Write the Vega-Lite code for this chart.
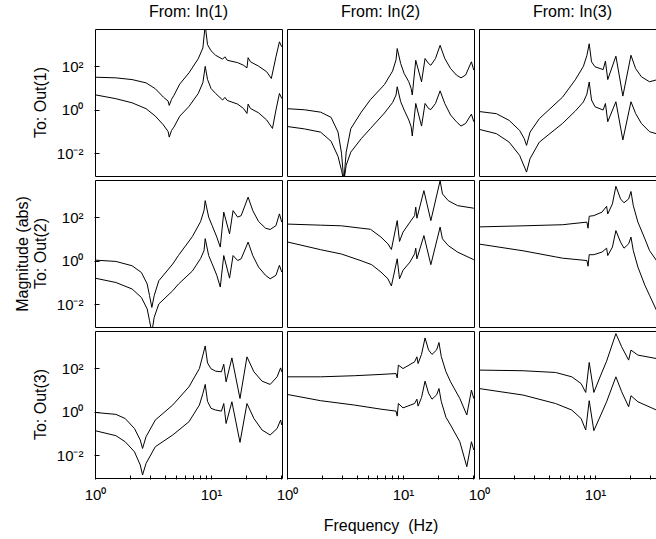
{
"$schema": "https://vega.github.io/schema/vega-lite/v6.json",
"padding": {"left": 14, "top": 4, "right": 0, "bottom": 0},
"background": "white",
"data": {"values": [
{"out":"To: Out(1)","in":"From: In(1)","curve":"a","f":1,"mag":31.62},{"out":"To: Out(1)","in":"From: In(1)","curve":"a","f":1.514,"mag":29.51},{"out":"To: Out(1)","in":"From: In(1)","curve":"a","f":2.089,"mag":24.55},{"out":"To: Out(1)","in":"From: In(1)","curve":"a","f":2.754,"mag":17.38},{"out":"To: Out(1)","in":"From: In(1)","curve":"a","f":3.311,"mag":9.333},{"out":"To: Out(1)","in":"From: In(1)","curve":"a","f":3.89,"mag":3.802},{"out":"To: Out(1)","in":"From: In(1)","curve":"a","f":4.266,"mag":2.512},{"out":"To: Out(1)","in":"From: In(1)","curve":"a","f":4.365,"mag":1.585},{"out":"To: Out(1)","in":"From: In(1)","curve":"a","f":4.571,"mag":3.02},{"out":"To: Out(1)","in":"From: In(1)","curve":"a","f":4.786,"mag":4.571},{"out":"To: Out(1)","in":"From: In(1)","curve":"a","f":5.37,"mag":15.14},{"out":"To: Out(1)","in":"From: In(1)","curve":"a","f":6.457,"mag":50.12},{"out":"To: Out(1)","in":"From: In(1)","curve":"a","f":7.762,"mag":223.9},{"out":"To: Out(1)","in":"From: In(1)","curve":"a","f":8.511,"mag":707.9},{"out":"To: Out(1)","in":"From: In(1)","curve":"a","f":8.913,"mag":7943},{"out":"To: Out(1)","in":"From: In(1)","curve":"a","f":9.333,"mag":1000},{"out":"To: Out(1)","in":"From: In(1)","curve":"a","f":10,"mag":524.8},{"out":"To: Out(1)","in":"From: In(1)","curve":"a","f":10.96,"mag":323.6},{"out":"To: Out(1)","in":"From: In(1)","curve":"a","f":12.59,"mag":213.8},{"out":"To: Out(1)","in":"From: In(1)","curve":"a","f":13.18,"mag":275.4},{"out":"To: Out(1)","in":"From: In(1)","curve":"a","f":13.8,"mag":190.5},{"out":"To: Out(1)","in":"From: In(1)","curve":"a","f":16.98,"mag":147.9},{"out":"To: Out(1)","in":"From: In(1)","curve":"a","f":19.05,"mag":112.2},{"out":"To: Out(1)","in":"From: In(1)","curve":"a","f":20.42,"mag":85.11},{"out":"To: Out(1)","in":"From: In(1)","curve":"a","f":20.89,"mag":251.2},{"out":"To: Out(1)","in":"From: In(1)","curve":"a","f":21.88,"mag":162.2},{"out":"To: Out(1)","in":"From: In(1)","curve":"a","f":25.7,"mag":102.3},{"out":"To: Out(1)","in":"From: In(1)","curve":"a","f":30.2,"mag":56.23},{"out":"To: Out(1)","in":"From: In(1)","curve":"a","f":33.11,"mag":27.54},{"out":"To: Out(1)","in":"From: In(1)","curve":"a","f":36.31,"mag":275.4},{"out":"To: Out(1)","in":"From: In(1)","curve":"a","f":38.9,"mag":1349},{"out":"To: Out(1)","in":"From: In(1)","curve":"a","f":40.74,"mag":794.3},
{"out":"To: Out(1)","in":"From: In(1)","curve":"b","f":1,"mag":4.898},{"out":"To: Out(1)","in":"From: In(1)","curve":"b","f":1.514,"mag":3.236},{"out":"To: Out(1)","in":"From: In(1)","curve":"b","f":2.089,"mag":2.089},{"out":"To: Out(1)","in":"From: In(1)","curve":"b","f":2.754,"mag":1.122},{"out":"To: Out(1)","in":"From: In(1)","curve":"b","f":3.311,"mag":0.5129},{"out":"To: Out(1)","in":"From: In(1)","curve":"b","f":3.89,"mag":0.1995},{"out":"To: Out(1)","in":"From: In(1)","curve":"b","f":4.266,"mag":0.1},{"out":"To: Out(1)","in":"From: In(1)","curve":"b","f":4.365,"mag":0.05495},{"out":"To: Out(1)","in":"From: In(1)","curve":"b","f":4.571,"mag":0.1122},{"out":"To: Out(1)","in":"From: In(1)","curve":"b","f":4.786,"mag":0.1585},{"out":"To: Out(1)","in":"From: In(1)","curve":"b","f":5.37,"mag":0.5012},{"out":"To: Out(1)","in":"From: In(1)","curve":"b","f":6.457,"mag":1.413},{"out":"To: Out(1)","in":"From: In(1)","curve":"b","f":7.762,"mag":5.623},{"out":"To: Out(1)","in":"From: In(1)","curve":"b","f":8.511,"mag":17.78},{"out":"To: Out(1)","in":"From: In(1)","curve":"b","f":8.913,"mag":100},{"out":"To: Out(1)","in":"From: In(1)","curve":"b","f":9.333,"mag":25.12},{"out":"To: Out(1)","in":"From: In(1)","curve":"b","f":10,"mag":9.55},{"out":"To: Out(1)","in":"From: In(1)","curve":"b","f":10.96,"mag":5.623},{"out":"To: Out(1)","in":"From: In(1)","curve":"b","f":12.59,"mag":2.818},{"out":"To: Out(1)","in":"From: In(1)","curve":"b","f":13.18,"mag":3.715},{"out":"To: Out(1)","in":"From: In(1)","curve":"b","f":13.8,"mag":2.692},{"out":"To: Out(1)","in":"From: In(1)","curve":"b","f":16.98,"mag":1.82},{"out":"To: Out(1)","in":"From: In(1)","curve":"b","f":19.05,"mag":1.148},{"out":"To: Out(1)","in":"From: In(1)","curve":"b","f":20.42,"mag":0.6761},{"out":"To: Out(1)","in":"From: In(1)","curve":"b","f":20.89,"mag":1.82},{"out":"To: Out(1)","in":"From: In(1)","curve":"b","f":21.88,"mag":1.148},{"out":"To: Out(1)","in":"From: In(1)","curve":"b","f":25.7,"mag":0.7244},{"out":"To: Out(1)","in":"From: In(1)","curve":"b","f":30.2,"mag":0.3388},{"out":"To: Out(1)","in":"From: In(1)","curve":"b","f":33.88,"mag":0.138},{"out":"To: Out(1)","in":"From: In(1)","curve":"b","f":36.31,"mag":0.9772},{"out":"To: Out(1)","in":"From: In(1)","curve":"b","f":38.9,"mag":5.623},{"out":"To: Out(1)","in":"From: In(1)","curve":"b","f":40.74,"mag":3.311},
{"out":"To: Out(1)","in":"From: In(2)","curve":"a","f":1,"mag":1.122},{"out":"To: Out(1)","in":"From: In(2)","curve":"a","f":1.413,"mag":1.0},{"out":"To: Out(1)","in":"From: In(2)","curve":"a","f":1.95,"mag":0.7762},{"out":"To: Out(1)","in":"From: In(2)","curve":"a","f":2.399,"mag":0.4467},{"out":"To: Out(1)","in":"From: In(2)","curve":"a","f":2.754,"mag":0.09333},{"out":"To: Out(1)","in":"From: In(2)","curve":"a","f":2.951,"mag":0.01},{"out":"To: Out(1)","in":"From: In(2)","curve":"a","f":3.09,"mag":0.000501},{"out":"To: Out(1)","in":"From: In(2)","curve":"a","f":3.236,"mag":0.01122},{"out":"To: Out(1)","in":"From: In(2)","curve":"a","f":3.548,"mag":0.1349},{"out":"To: Out(1)","in":"From: In(2)","curve":"a","f":4.365,"mag":0.7762},{"out":"To: Out(1)","in":"From: In(2)","curve":"a","f":5.248,"mag":2.951},{"out":"To: Out(1)","in":"From: In(2)","curve":"a","f":6.918,"mag":14.45},{"out":"To: Out(1)","in":"From: In(2)","curve":"a","f":8.128,"mag":60.26},{"out":"To: Out(1)","in":"From: In(2)","curve":"a","f":8.71,"mag":199.5},{"out":"To: Out(1)","in":"From: In(2)","curve":"a","f":8.913,"mag":660.7},{"out":"To: Out(1)","in":"From: In(2)","curve":"a","f":9.55,"mag":134.9},{"out":"To: Out(1)","in":"From: In(2)","curve":"a","f":10.23,"mag":46.77},{"out":"To: Out(1)","in":"From: In(2)","curve":"a","f":11.22,"mag":19.5},{"out":"To: Out(1)","in":"From: In(2)","curve":"a","f":11.75,"mag":9.55},{"out":"To: Out(1)","in":"From: In(2)","curve":"a","f":12.02,"mag":4.786},{"out":"To: Out(1)","in":"From: In(2)","curve":"a","f":12.88,"mag":190.5},{"out":"To: Out(1)","in":"From: In(2)","curve":"a","f":14.45,"mag":19.5},{"out":"To: Out(1)","in":"From: In(2)","curve":"a","f":15.49,"mag":229.1},{"out":"To: Out(1)","in":"From: In(2)","curve":"a","f":16.6,"mag":134.9},{"out":"To: Out(1)","in":"From: In(2)","curve":"a","f":17.38,"mag":112.2},{"out":"To: Out(1)","in":"From: In(2)","curve":"a","f":19.05,"mag":229.1},{"out":"To: Out(1)","in":"From: In(2)","curve":"a","f":20.89,"mag":933.3},{"out":"To: Out(1)","in":"From: In(2)","curve":"a","f":22.91,"mag":229.1},{"out":"To: Out(1)","in":"From: In(2)","curve":"a","f":25.7,"mag":79.43},{"out":"To: Out(1)","in":"From: In(2)","curve":"a","f":28.84,"mag":39.81},{"out":"To: Out(1)","in":"From: In(2)","curve":"a","f":31.62,"mag":29.51},{"out":"To: Out(1)","in":"From: In(2)","curve":"a","f":34.67,"mag":39.81},{"out":"To: Out(1)","in":"From: In(2)","curve":"a","f":38.9,"mag":162.2},{"out":"To: Out(1)","in":"From: In(2)","curve":"a","f":40.74,"mag":67.61},
{"out":"To: Out(1)","in":"From: In(2)","curve":"b","f":1,"mag":0.1698},{"out":"To: Out(1)","in":"From: In(2)","curve":"b","f":1.413,"mag":0.1318},{"out":"To: Out(1)","in":"From: In(2)","curve":"b","f":1.95,"mag":0.09333},{"out":"To: Out(1)","in":"From: In(2)","curve":"b","f":2.399,"mag":0.03548},{"out":"To: Out(1)","in":"From: In(2)","curve":"b","f":2.754,"mag":0.007079},{"out":"To: Out(1)","in":"From: In(2)","curve":"b","f":2.951,"mag":0.001622},{"out":"To: Out(1)","in":"From: In(2)","curve":"b","f":3.09,"mag":0.000501},{"out":"To: Out(1)","in":"From: In(2)","curve":"b","f":3.236,"mag":0.002754},{"out":"To: Out(1)","in":"From: In(2)","curve":"b","f":3.548,"mag":0.01122},{"out":"To: Out(1)","in":"From: In(2)","curve":"b","f":4.365,"mag":0.04677},{"out":"To: Out(1)","in":"From: In(2)","curve":"b","f":5.248,"mag":0.138},{"out":"To: Out(1)","in":"From: In(2)","curve":"b","f":6.918,"mag":0.7079},{"out":"To: Out(1)","in":"From: In(2)","curve":"b","f":8.128,"mag":2.138},{"out":"To: Out(1)","in":"From: In(2)","curve":"b","f":8.71,"mag":4.786},{"out":"To: Out(1)","in":"From: In(2)","curve":"b","f":8.913,"mag":11.48},{"out":"To: Out(1)","in":"From: In(2)","curve":"b","f":9.55,"mag":2.344},{"out":"To: Out(1)","in":"From: In(2)","curve":"b","f":10.23,"mag":0.9772},{"out":"To: Out(1)","in":"From: In(2)","curve":"b","f":11.22,"mag":0.3388},{"out":"To: Out(1)","in":"From: In(2)","curve":"b","f":11.75,"mag":0.166},{"out":"To: Out(1)","in":"From: In(2)","curve":"b","f":12.02,"mag":0.06166},{"out":"To: Out(1)","in":"From: In(2)","curve":"b","f":12.88,"mag":1.95},{"out":"To: Out(1)","in":"From: In(2)","curve":"b","f":14.45,"mag":0.1778},{"out":"To: Out(1)","in":"From: In(2)","curve":"b","f":15.49,"mag":1.95},{"out":"To: Out(1)","in":"From: In(2)","curve":"b","f":16.6,"mag":1.148},{"out":"To: Out(1)","in":"From: In(2)","curve":"b","f":17.38,"mag":1.023},{"out":"To: Out(1)","in":"From: In(2)","curve":"b","f":19.05,"mag":1.95},{"out":"To: Out(1)","in":"From: In(2)","curve":"b","f":20.89,"mag":7.413},{"out":"To: Out(1)","in":"From: In(2)","curve":"b","f":22.91,"mag":1.95},{"out":"To: Out(1)","in":"From: In(2)","curve":"b","f":25.7,"mag":0.5754},{"out":"To: Out(1)","in":"From: In(2)","curve":"b","f":28.84,"mag":0.2818},{"out":"To: Out(1)","in":"From: In(2)","curve":"b","f":31.62,"mag":0.1778},{"out":"To: Out(1)","in":"From: In(2)","curve":"b","f":34.67,"mag":0.2344},{"out":"To: Out(1)","in":"From: In(2)","curve":"b","f":38.9,"mag":0.631},{"out":"To: Out(1)","in":"From: In(2)","curve":"b","f":40.74,"mag":0.2818},
{"out":"To: Out(1)","in":"From: In(3)","curve":"a","f":1,"mag":0.8318},{"out":"To: Out(1)","in":"From: In(3)","curve":"a","f":1.413,"mag":0.6607},{"out":"To: Out(1)","in":"From: In(3)","curve":"a","f":1.82,"mag":0.3236},{"out":"To: Out(1)","in":"From: In(3)","curve":"a","f":2.239,"mag":0.1122},{"out":"To: Out(1)","in":"From: In(3)","curve":"a","f":2.455,"mag":0.04677},{"out":"To: Out(1)","in":"From: In(3)","curve":"a","f":2.57,"mag":0.02291},{"out":"To: Out(1)","in":"From: In(3)","curve":"a","f":2.754,"mag":0.09333},{"out":"To: Out(1)","in":"From: In(3)","curve":"a","f":3.311,"mag":0.389},{"out":"To: Out(1)","in":"From: In(3)","curve":"a","f":5.248,"mag":3.802},{"out":"To: Out(1)","in":"From: In(3)","curve":"a","f":6.761,"mag":23.99},{"out":"To: Out(1)","in":"From: In(3)","curve":"a","f":7.943,"mag":100},{"out":"To: Out(1)","in":"From: In(3)","curve":"a","f":8.511,"mag":316.2},{"out":"To: Out(1)","in":"From: In(3)","curve":"a","f":8.913,"mag":1096},{"out":"To: Out(1)","in":"From: In(3)","curve":"a","f":9.333,"mag":162.2},{"out":"To: Out(1)","in":"From: In(3)","curve":"a","f":10,"mag":95.5},{"out":"To: Out(1)","in":"From: In(3)","curve":"a","f":11.75,"mag":70.79},{"out":"To: Out(1)","in":"From: In(3)","curve":"a","f":12.3,"mag":173.8},{"out":"To: Out(1)","in":"From: In(3)","curve":"a","f":12.88,"mag":24.55},{"out":"To: Out(1)","in":"From: In(3)","curve":"a","f":15.14,"mag":295.1},{"out":"To: Out(1)","in":"From: In(3)","curve":"a","f":17.38,"mag":4.266},{"out":"To: Out(1)","in":"From: In(3)","curve":"a","f":20.42,"mag":323.6},{"out":"To: Out(1)","in":"From: In(3)","curve":"a","f":22.39,"mag":79.43},{"out":"To: Out(1)","in":"From: In(3)","curve":"a","f":25.12,"mag":33.11},{"out":"To: Out(1)","in":"From: In(3)","curve":"a","f":29.51,"mag":19.5},{"out":"To: Out(1)","in":"From: In(3)","curve":"a","f":34.67,"mag":24.55},
{"out":"To: Out(1)","in":"From: In(3)","curve":"b","f":1,"mag":0.1259},{"out":"To: Out(1)","in":"From: In(3)","curve":"b","f":1.413,"mag":0.07943},{"out":"To: Out(1)","in":"From: In(3)","curve":"b","f":1.82,"mag":0.03236},{"out":"To: Out(1)","in":"From: In(3)","curve":"b","f":2.239,"mag":0.007943},{"out":"To: Out(1)","in":"From: In(3)","curve":"b","f":2.57,"mag":0.001349},{"out":"To: Out(1)","in":"From: In(3)","curve":"b","f":2.754,"mag":0.005623},{"out":"To: Out(1)","in":"From: In(3)","curve":"b","f":3.311,"mag":0.03236},{"out":"To: Out(1)","in":"From: In(3)","curve":"b","f":5.248,"mag":0.2344},{"out":"To: Out(1)","in":"From: In(3)","curve":"b","f":6.761,"mag":0.871},{"out":"To: Out(1)","in":"From: In(3)","curve":"b","f":7.943,"mag":2.291},{"out":"To: Out(1)","in":"From: In(3)","curve":"b","f":8.511,"mag":5.248},{"out":"To: Out(1)","in":"From: In(3)","curve":"b","f":8.913,"mag":19.05},{"out":"To: Out(1)","in":"From: In(3)","curve":"b","f":9.333,"mag":2.818},{"out":"To: Out(1)","in":"From: In(3)","curve":"b","f":10,"mag":1.38},{"out":"To: Out(1)","in":"From: In(3)","curve":"b","f":11.75,"mag":0.9772},{"out":"To: Out(1)","in":"From: In(3)","curve":"b","f":12.3,"mag":1.95},{"out":"To: Out(1)","in":"From: In(3)","curve":"b","f":12.88,"mag":0.2818},{"out":"To: Out(1)","in":"From: In(3)","curve":"b","f":15.14,"mag":2.344},{"out":"To: Out(1)","in":"From: In(3)","curve":"b","f":17.38,"mag":0.04074},{"out":"To: Out(1)","in":"From: In(3)","curve":"b","f":20.42,"mag":2.344},{"out":"To: Out(1)","in":"From: In(3)","curve":"b","f":22.39,"mag":0.6761},{"out":"To: Out(1)","in":"From: In(3)","curve":"b","f":25.12,"mag":0.2344},{"out":"To: Out(1)","in":"From: In(3)","curve":"b","f":29.51,"mag":0.09772},{"out":"To: Out(1)","in":"From: In(3)","curve":"b","f":34.67,"mag":0.07586},
{"out":"To: Out(2)","in":"From: In(1)","curve":"a","f":1,"mag":1.072},{"out":"To: Out(2)","in":"From: In(1)","curve":"a","f":1.514,"mag":0.9333},{"out":"To: Out(2)","in":"From: In(1)","curve":"a","f":2.089,"mag":0.5888},{"out":"To: Out(2)","in":"From: In(1)","curve":"a","f":2.512,"mag":0.2884},{"out":"To: Out(2)","in":"From: In(1)","curve":"a","f":2.818,"mag":0.08511},{"out":"To: Out(2)","in":"From: In(1)","curve":"a","f":2.951,"mag":0.02512},{"out":"To: Out(2)","in":"From: In(1)","curve":"a","f":3.09,"mag":0.007079},{"out":"To: Out(2)","in":"From: In(1)","curve":"a","f":3.236,"mag":0.02455},{"out":"To: Out(2)","in":"From: In(1)","curve":"a","f":3.548,"mag":0.1202},{"out":"To: Out(2)","in":"From: In(1)","curve":"a","f":4.677,"mag":0.7079},{"out":"To: Out(2)","in":"From: In(1)","curve":"a","f":5.248,"mag":1.778},{"out":"To: Out(2)","in":"From: In(1)","curve":"a","f":6.918,"mag":13.18},{"out":"To: Out(2)","in":"From: In(1)","curve":"a","f":8.128,"mag":63.1},{"out":"To: Out(2)","in":"From: In(1)","curve":"a","f":8.71,"mag":208.9},{"out":"To: Out(2)","in":"From: In(1)","curve":"a","f":8.913,"mag":588.8},{"out":"To: Out(2)","in":"From: In(1)","curve":"a","f":9.55,"mag":102.3},{"out":"To: Out(2)","in":"From: In(1)","curve":"a","f":10.23,"mag":41.69},{"out":"To: Out(2)","in":"From: In(1)","curve":"a","f":11.22,"mag":12.3},{"out":"To: Out(2)","in":"From: In(1)","curve":"a","f":12.02,"mag":4.266},{"out":"To: Out(2)","in":"From: In(1)","curve":"a","f":12.88,"mag":173.8},{"out":"To: Out(2)","in":"From: In(1)","curve":"a","f":14.45,"mag":17.38},{"out":"To: Out(2)","in":"From: In(1)","curve":"a","f":15.49,"mag":204.2},{"out":"To: Out(2)","in":"From: In(1)","curve":"a","f":16.98,"mag":102.3},{"out":"To: Out(2)","in":"From: In(1)","curve":"a","f":18.2,"mag":120.2},{"out":"To: Out(2)","in":"From: In(1)","curve":"a","f":20.89,"mag":851.1},{"out":"To: Out(2)","in":"From: In(1)","curve":"a","f":22.91,"mag":204.2},{"out":"To: Out(2)","in":"From: In(1)","curve":"a","f":25.7,"mag":64.57},{"out":"To: Out(2)","in":"From: In(1)","curve":"a","f":29.51,"mag":31.62},{"out":"To: Out(2)","in":"From: In(1)","curve":"a","f":32.36,"mag":27.54},{"out":"To: Out(2)","in":"From: In(1)","curve":"a","f":36.31,"mag":41.69},{"out":"To: Out(2)","in":"From: In(1)","curve":"a","f":38.9,"mag":144.5},{"out":"To: Out(2)","in":"From: In(1)","curve":"a","f":40.74,"mag":60.26},
{"out":"To: Out(2)","in":"From: In(1)","curve":"b","f":1,"mag":0.1585},{"out":"To: Out(2)","in":"From: In(1)","curve":"b","f":1.514,"mag":0.1},{"out":"To: Out(2)","in":"From: In(1)","curve":"b","f":2.089,"mag":0.05012},{"out":"To: Out(2)","in":"From: In(1)","curve":"b","f":2.512,"mag":0.02042},{"out":"To: Out(2)","in":"From: In(1)","curve":"b","f":2.818,"mag":0.006026},{"out":"To: Out(2)","in":"From: In(1)","curve":"b","f":2.951,"mag":0.001738},{"out":"To: Out(2)","in":"From: In(1)","curve":"b","f":3.09,"mag":0.000501},{"out":"To: Out(2)","in":"From: In(1)","curve":"b","f":3.236,"mag":0.002455},{"out":"To: Out(2)","in":"From: In(1)","curve":"b","f":3.548,"mag":0.01023},{"out":"To: Out(2)","in":"From: In(1)","curve":"b","f":4.677,"mag":0.04169},{"out":"To: Out(2)","in":"From: In(1)","curve":"b","f":5.248,"mag":0.08511},{"out":"To: Out(2)","in":"From: In(1)","curve":"b","f":6.918,"mag":0.3388},{"out":"To: Out(2)","in":"From: In(1)","curve":"b","f":8.128,"mag":1.259},{"out":"To: Out(2)","in":"From: In(1)","curve":"b","f":8.71,"mag":2.951},{"out":"To: Out(2)","in":"From: In(1)","curve":"b","f":8.913,"mag":10.47},{"out":"To: Out(2)","in":"From: In(1)","curve":"b","f":9.55,"mag":1.738},{"out":"To: Out(2)","in":"From: In(1)","curve":"b","f":10.23,"mag":0.7244},{"out":"To: Out(2)","in":"From: In(1)","curve":"b","f":11.22,"mag":0.2138},{"out":"To: Out(2)","in":"From: In(1)","curve":"b","f":12.02,"mag":0.06166},{"out":"To: Out(2)","in":"From: In(1)","curve":"b","f":12.88,"mag":1.738},{"out":"To: Out(2)","in":"From: In(1)","curve":"b","f":14.45,"mag":0.1585},{"out":"To: Out(2)","in":"From: In(1)","curve":"b","f":15.49,"mag":1.738},{"out":"To: Out(2)","in":"From: In(1)","curve":"b","f":16.98,"mag":1.023},{"out":"To: Out(2)","in":"From: In(1)","curve":"b","f":18.2,"mag":1.23},{"out":"To: Out(2)","in":"From: In(1)","curve":"b","f":20.89,"mag":7.244},{"out":"To: Out(2)","in":"From: In(1)","curve":"b","f":22.91,"mag":1.738},{"out":"To: Out(2)","in":"From: In(1)","curve":"b","f":25.7,"mag":0.5129},{"out":"To: Out(2)","in":"From: In(1)","curve":"b","f":29.51,"mag":0.2138},{"out":"To: Out(2)","in":"From: In(1)","curve":"b","f":32.36,"mag":0.1479},{"out":"To: Out(2)","in":"From: In(1)","curve":"b","f":36.31,"mag":0.2138},{"out":"To: Out(2)","in":"From: In(1)","curve":"b","f":38.9,"mag":0.6166},{"out":"To: Out(2)","in":"From: In(1)","curve":"b","f":40.74,"mag":0.302},
{"out":"To: Out(2)","in":"From: In(2)","curve":"a","f":1,"mag":48.98},{"out":"To: Out(2)","in":"From: In(2)","curve":"a","f":1.95,"mag":43.65},{"out":"To: Out(2)","in":"From: In(2)","curve":"a","f":2.951,"mag":40.74},{"out":"To: Out(2)","in":"From: In(2)","curve":"a","f":4.365,"mag":31.62},{"out":"To: Out(2)","in":"From: In(2)","curve":"a","f":5.248,"mag":28.18},{"out":"To: Out(2)","in":"From: In(2)","curve":"a","f":6.457,"mag":12.3},{"out":"To: Out(2)","in":"From: In(2)","curve":"a","f":7.413,"mag":6.026},{"out":"To: Out(2)","in":"From: In(2)","curve":"a","f":7.943,"mag":3.311},{"out":"To: Out(2)","in":"From: In(2)","curve":"a","f":8.913,"mag":70.79},{"out":"To: Out(2)","in":"From: In(2)","curve":"a","f":9.333,"mag":7.762},{"out":"To: Out(2)","in":"From: In(2)","curve":"a","f":10,"mag":20.89},{"out":"To: Out(2)","in":"From: In(2)","curve":"a","f":11.48,"mag":60.26},{"out":"To: Out(2)","in":"From: In(2)","curve":"a","f":12.59,"mag":120.2},{"out":"To: Out(2)","in":"From: In(2)","curve":"a","f":12.88,"mag":295.1},{"out":"To: Out(2)","in":"From: In(2)","curve":"a","f":13.18,"mag":91.2},{"out":"To: Out(2)","in":"From: In(2)","curve":"a","f":15.14,"mag":1698},{"out":"To: Out(2)","in":"From: In(2)","curve":"a","f":17.38,"mag":70.79},{"out":"To: Out(2)","in":"From: In(2)","curve":"a","f":20.89,"mag":4898},{"out":"To: Out(2)","in":"From: In(2)","curve":"a","f":21.88,"mag":1202},{"out":"To: Out(2)","in":"From: In(2)","curve":"a","f":24.55,"mag":588.8},{"out":"To: Out(2)","in":"From: In(2)","curve":"a","f":29.51,"mag":346.7},{"out":"To: Out(2)","in":"From: In(2)","curve":"a","f":40.74,"mag":263},
{"out":"To: Out(2)","in":"From: In(2)","curve":"b","f":1,"mag":7.413},{"out":"To: Out(2)","in":"From: In(2)","curve":"b","f":1.95,"mag":3.236},{"out":"To: Out(2)","in":"From: In(2)","curve":"b","f":2.951,"mag":2.042},{"out":"To: Out(2)","in":"From: In(2)","curve":"b","f":4.365,"mag":1.0},{"out":"To: Out(2)","in":"From: In(2)","curve":"b","f":5.37,"mag":0.6607},{"out":"To: Out(2)","in":"From: In(2)","curve":"b","f":6.457,"mag":0.302},{"out":"To: Out(2)","in":"From: In(2)","curve":"b","f":7.413,"mag":0.1479},{"out":"To: Out(2)","in":"From: In(2)","curve":"b","f":7.943,"mag":0.06918},{"out":"To: Out(2)","in":"From: In(2)","curve":"b","f":8.913,"mag":1.23},{"out":"To: Out(2)","in":"From: In(2)","curve":"b","f":9.333,"mag":0.1479},{"out":"To: Out(2)","in":"From: In(2)","curve":"b","f":10,"mag":0.3631},{"out":"To: Out(2)","in":"From: In(2)","curve":"b","f":11.48,"mag":0.871},{"out":"To: Out(2)","in":"From: In(2)","curve":"b","f":12.59,"mag":2.089},{"out":"To: Out(2)","in":"From: In(2)","curve":"b","f":12.88,"mag":3.802},{"out":"To: Out(2)","in":"From: In(2)","curve":"b","f":13.18,"mag":1.23},{"out":"To: Out(2)","in":"From: In(2)","curve":"b","f":15.14,"mag":14.45},{"out":"To: Out(2)","in":"From: In(2)","curve":"b","f":17.38,"mag":0.6607},{"out":"To: Out(2)","in":"From: In(2)","curve":"b","f":20.89,"mag":35.48},{"out":"To: Out(2)","in":"From: In(2)","curve":"b","f":21.88,"mag":10.23},{"out":"To: Out(2)","in":"From: In(2)","curve":"b","f":24.55,"mag":5.012},{"out":"To: Out(2)","in":"From: In(2)","curve":"b","f":29.51,"mag":2.512},{"out":"To: Out(2)","in":"From: In(2)","curve":"b","f":40.74,"mag":1.122},
{"out":"To: Out(2)","in":"From: In(3)","curve":"a","f":1,"mag":36.31},{"out":"To: Out(2)","in":"From: In(3)","curve":"a","f":2.399,"mag":40.74},{"out":"To: Out(2)","in":"From: In(3)","curve":"a","f":5.248,"mag":45.71},{"out":"To: Out(2)","in":"From: In(3)","curve":"a","f":8.511,"mag":60.26},{"out":"To: Out(2)","in":"From: In(3)","curve":"a","f":8.71,"mag":31.62},{"out":"To: Out(2)","in":"From: In(3)","curve":"a","f":8.913,"mag":112.2},{"out":"To: Out(2)","in":"From: In(3)","curve":"a","f":9.772,"mag":120.2},{"out":"To: Out(2)","in":"From: In(3)","curve":"a","f":11.48,"mag":173.8},{"out":"To: Out(2)","in":"From: In(3)","curve":"a","f":12.59,"mag":323.6},{"out":"To: Out(2)","in":"From: In(3)","curve":"a","f":12.88,"mag":144.5},{"out":"To: Out(2)","in":"From: In(3)","curve":"a","f":14.13,"mag":416.9},{"out":"To: Out(2)","in":"From: In(3)","curve":"a","f":15.14,"mag":2692},{"out":"To: Out(2)","in":"From: In(3)","curve":"a","f":16.6,"mag":707.9},{"out":"To: Out(2)","in":"From: In(3)","curve":"a","f":17.78,"mag":467.7},{"out":"To: Out(2)","in":"From: In(3)","curve":"a","f":19.5,"mag":707.9},{"out":"To: Out(2)","in":"From: In(3)","curve":"a","f":20.42,"mag":1549},{"out":"To: Out(2)","in":"From: In(3)","curve":"a","f":21.38,"mag":346.7},{"out":"To: Out(2)","in":"From: In(3)","curve":"a","f":23.44,"mag":60.26},{"out":"To: Out(2)","in":"From: In(3)","curve":"a","f":26.92,"mag":10.23},{"out":"To: Out(2)","in":"From: In(3)","curve":"a","f":29.51,"mag":2.951},{"out":"To: Out(2)","in":"From: In(3)","curve":"a","f":33.88,"mag":1.023},
{"out":"To: Out(2)","in":"From: In(3)","curve":"b","f":1,"mag":5.888},{"out":"To: Out(2)","in":"From: In(3)","curve":"b","f":2.399,"mag":2.884},{"out":"To: Out(2)","in":"From: In(3)","curve":"b","f":4.571,"mag":1.514},{"out":"To: Out(2)","in":"From: In(3)","curve":"b","f":5.248,"mag":1.318},{"out":"To: Out(2)","in":"From: In(3)","curve":"b","f":8.511,"mag":1.023},{"out":"To: Out(2)","in":"From: In(3)","curve":"b","f":8.71,"mag":0.5623},{"out":"To: Out(2)","in":"From: In(3)","curve":"b","f":8.913,"mag":1.905},{"out":"To: Out(2)","in":"From: In(3)","curve":"b","f":9.772,"mag":1.905},{"out":"To: Out(2)","in":"From: In(3)","curve":"b","f":11.48,"mag":2.512},{"out":"To: Out(2)","in":"From: In(3)","curve":"b","f":12.59,"mag":3.802},{"out":"To: Out(2)","in":"From: In(3)","curve":"b","f":12.88,"mag":1.738},{"out":"To: Out(2)","in":"From: In(3)","curve":"b","f":14.13,"mag":4.266},{"out":"To: Out(2)","in":"From: In(3)","curve":"b","f":15.14,"mag":24.55},{"out":"To: Out(2)","in":"From: In(3)","curve":"b","f":16.6,"mag":7.244},{"out":"To: Out(2)","in":"From: In(3)","curve":"b","f":17.78,"mag":3.802},{"out":"To: Out(2)","in":"From: In(3)","curve":"b","f":19.5,"mag":6.026},{"out":"To: Out(2)","in":"From: In(3)","curve":"b","f":20.42,"mag":12.3},{"out":"To: Out(2)","in":"From: In(3)","curve":"b","f":21.38,"mag":2.951},{"out":"To: Out(2)","in":"From: In(3)","curve":"b","f":23.44,"mag":0.5129},{"out":"To: Out(2)","in":"From: In(3)","curve":"b","f":26.92,"mag":0.07413},{"out":"To: Out(2)","in":"From: In(3)","curve":"b","f":29.51,"mag":0.0257},{"out":"To: Out(2)","in":"From: In(3)","curve":"b","f":33.88,"mag":0.005248},
{"out":"To: Out(3)","in":"From: In(1)","curve":"a","f":1,"mag":0.9333},{"out":"To: Out(3)","in":"From: In(1)","curve":"a","f":1.514,"mag":0.7586},{"out":"To: Out(3)","in":"From: In(1)","curve":"a","f":1.82,"mag":0.4898},{"out":"To: Out(3)","in":"From: In(1)","curve":"a","f":2.188,"mag":0.1698},{"out":"To: Out(3)","in":"From: In(1)","curve":"a","f":2.455,"mag":0.05012},{"out":"To: Out(3)","in":"From: In(1)","curve":"a","f":2.57,"mag":0.02042},{"out":"To: Out(3)","in":"From: In(1)","curve":"a","f":2.754,"mag":0.07079},{"out":"To: Out(3)","in":"From: In(1)","curve":"a","f":3.311,"mag":0.4169},{"out":"To: Out(3)","in":"From: In(1)","curve":"a","f":4.677,"mag":2.042},{"out":"To: Out(3)","in":"From: In(1)","curve":"a","f":6.457,"mag":14.13},{"out":"To: Out(3)","in":"From: In(1)","curve":"a","f":7.943,"mag":97.72},{"out":"To: Out(3)","in":"From: In(1)","curve":"a","f":8.511,"mag":407.4},{"out":"To: Out(3)","in":"From: In(1)","curve":"a","f":8.913,"mag":1072},{"out":"To: Out(3)","in":"From: In(1)","curve":"a","f":9.333,"mag":177.8},{"out":"To: Out(3)","in":"From: In(1)","curve":"a","f":10,"mag":95.5},{"out":"To: Out(3)","in":"From: In(1)","curve":"a","f":10.96,"mag":74.13},{"out":"To: Out(3)","in":"From: In(1)","curve":"a","f":12.3,"mag":69.18},{"out":"To: Out(3)","in":"From: In(1)","curve":"a","f":12.88,"mag":154.9},{"out":"To: Out(3)","in":"From: In(1)","curve":"a","f":13.49,"mag":23.99},{"out":"To: Out(3)","in":"From: In(1)","curve":"a","f":15.14,"mag":302},{"out":"To: Out(3)","in":"From: In(1)","curve":"a","f":17.78,"mag":4.074},{"out":"To: Out(3)","in":"From: In(1)","curve":"a","f":20.42,"mag":338.8},{"out":"To: Out(3)","in":"From: In(1)","curve":"a","f":23.44,"mag":69.18},{"out":"To: Out(3)","in":"From: In(1)","curve":"a","f":27.54,"mag":25.7},{"out":"To: Out(3)","in":"From: In(1)","curve":"a","f":32.36,"mag":18.2},{"out":"To: Out(3)","in":"From: In(1)","curve":"a","f":37.15,"mag":40.74},{"out":"To: Out(3)","in":"From: In(1)","curve":"a","f":39.81,"mag":104.7},{"out":"To: Out(3)","in":"From: In(1)","curve":"a","f":40.74,"mag":69.18},
{"out":"To: Out(3)","in":"From: In(1)","curve":"b","f":1,"mag":0.1349},{"out":"To: Out(3)","in":"From: In(1)","curve":"b","f":1.514,"mag":0.07943},{"out":"To: Out(3)","in":"From: In(1)","curve":"b","f":1.82,"mag":0.04169},{"out":"To: Out(3)","in":"From: In(1)","curve":"b","f":2.188,"mag":0.01445},{"out":"To: Out(3)","in":"From: In(1)","curve":"b","f":2.455,"mag":0.003548},{"out":"To: Out(3)","in":"From: In(1)","curve":"b","f":2.57,"mag":0.00123},{"out":"To: Out(3)","in":"From: In(1)","curve":"b","f":2.754,"mag":0.004169},{"out":"To: Out(3)","in":"From: In(1)","curve":"b","f":3.311,"mag":0.02455},{"out":"To: Out(3)","in":"From: In(1)","curve":"b","f":4.677,"mag":0.08511},{"out":"To: Out(3)","in":"From: In(1)","curve":"b","f":6.457,"mag":0.3467},{"out":"To: Out(3)","in":"From: In(1)","curve":"b","f":7.943,"mag":2.042},{"out":"To: Out(3)","in":"From: In(1)","curve":"b","f":8.511,"mag":6.918},{"out":"To: Out(3)","in":"From: In(1)","curve":"b","f":8.913,"mag":18.2},{"out":"To: Out(3)","in":"From: In(1)","curve":"b","f":9.333,"mag":3.02},{"out":"To: Out(3)","in":"From: In(1)","curve":"b","f":10,"mag":1.445},{"out":"To: Out(3)","in":"From: In(1)","curve":"b","f":10.96,"mag":1.202},{"out":"To: Out(3)","in":"From: In(1)","curve":"b","f":12.3,"mag":1.072},{"out":"To: Out(3)","in":"From: In(1)","curve":"b","f":12.88,"mag":2.399},{"out":"To: Out(3)","in":"From: In(1)","curve":"b","f":13.49,"mag":0.2884},{"out":"To: Out(3)","in":"From: In(1)","curve":"b","f":15.14,"mag":2.884},{"out":"To: Out(3)","in":"From: In(1)","curve":"b","f":17.78,"mag":0.0389},{"out":"To: Out(3)","in":"From: In(1)","curve":"b","f":20.42,"mag":2.399},{"out":"To: Out(3)","in":"From: In(1)","curve":"b","f":23.44,"mag":0.4898},{"out":"To: Out(3)","in":"From: In(1)","curve":"b","f":27.54,"mag":0.1445},{"out":"To: Out(3)","in":"From: In(1)","curve":"b","f":32.36,"mag":0.08511},{"out":"To: Out(3)","in":"From: In(1)","curve":"b","f":37.15,"mag":0.1698},{"out":"To: Out(3)","in":"From: In(1)","curve":"b","f":39.81,"mag":0.4169},{"out":"To: Out(3)","in":"From: In(1)","curve":"b","f":40.74,"mag":0.2455},
{"out":"To: Out(3)","in":"From: In(2)","curve":"a","f":1,"mag":40.74},{"out":"To: Out(3)","in":"From: In(2)","curve":"a","f":1.95,"mag":40.74},{"out":"To: Out(3)","in":"From: In(2)","curve":"a","f":3.802,"mag":45.71},{"out":"To: Out(3)","in":"From: In(2)","curve":"a","f":6.457,"mag":52.48},{"out":"To: Out(3)","in":"From: In(2)","curve":"a","f":8.71,"mag":57.54},{"out":"To: Out(3)","in":"From: In(2)","curve":"a","f":8.913,"mag":36.31},{"out":"To: Out(3)","in":"From: In(2)","curve":"a","f":9.12,"mag":141.3},{"out":"To: Out(3)","in":"From: In(2)","curve":"a","f":10,"mag":97.72},{"out":"To: Out(3)","in":"From: In(2)","curve":"a","f":12.59,"mag":199.5},{"out":"To: Out(3)","in":"From: In(2)","curve":"a","f":13.18,"mag":338.8},{"out":"To: Out(3)","in":"From: In(2)","curve":"a","f":13.49,"mag":166},{"out":"To: Out(3)","in":"From: In(2)","curve":"a","f":14.45,"mag":446.7},{"out":"To: Out(3)","in":"From: In(2)","curve":"a","f":15.49,"mag":2512},{"out":"To: Out(3)","in":"From: In(2)","curve":"a","f":16.6,"mag":707.9},{"out":"To: Out(3)","in":"From: In(2)","curve":"a","f":17.78,"mag":436.5},{"out":"To: Out(3)","in":"From: In(2)","curve":"a","f":19.5,"mag":707.9},{"out":"To: Out(3)","in":"From: In(2)","curve":"a","f":20.42,"mag":1549},{"out":"To: Out(3)","in":"From: In(2)","curve":"a","f":21.38,"mag":346.7},{"out":"To: Out(3)","in":"From: In(2)","curve":"a","f":23.44,"mag":70.79},{"out":"To: Out(3)","in":"From: In(2)","curve":"a","f":25.7,"mag":23.99},{"out":"To: Out(3)","in":"From: In(2)","curve":"a","f":30.9,"mag":4.074},{"out":"To: Out(3)","in":"From: In(2)","curve":"a","f":35.48,"mag":0.7079},{"out":"To: Out(3)","in":"From: In(2)","curve":"a","f":38.9,"mag":10},{"out":"To: Out(3)","in":"From: In(2)","curve":"a","f":40.74,"mag":4.074},
{"out":"To: Out(3)","in":"From: In(2)","curve":"b","f":1,"mag":6.31},{"out":"To: Out(3)","in":"From: In(2)","curve":"b","f":1.95,"mag":3.236},{"out":"To: Out(3)","in":"From: In(2)","curve":"b","f":3.802,"mag":2.042},{"out":"To: Out(3)","in":"From: In(2)","curve":"b","f":6.457,"mag":1.318},{"out":"To: Out(3)","in":"From: In(2)","curve":"b","f":8.71,"mag":1.072},{"out":"To: Out(3)","in":"From: In(2)","curve":"b","f":8.913,"mag":0.631},{"out":"To: Out(3)","in":"From: In(2)","curve":"b","f":9.12,"mag":2.399},{"out":"To: Out(3)","in":"From: In(2)","curve":"b","f":10,"mag":1.514},{"out":"To: Out(3)","in":"From: In(2)","curve":"b","f":12.59,"mag":2.399},{"out":"To: Out(3)","in":"From: In(2)","curve":"b","f":13.18,"mag":3.802},{"out":"To: Out(3)","in":"From: In(2)","curve":"b","f":13.49,"mag":1.82},{"out":"To: Out(3)","in":"From: In(2)","curve":"b","f":14.45,"mag":4.571},{"out":"To: Out(3)","in":"From: In(2)","curve":"b","f":15.49,"mag":25.7},{"out":"To: Out(3)","in":"From: In(2)","curve":"b","f":16.6,"mag":7.244},{"out":"To: Out(3)","in":"From: In(2)","curve":"b","f":17.78,"mag":3.802},{"out":"To: Out(3)","in":"From: In(2)","curve":"b","f":19.5,"mag":6.026},{"out":"To: Out(3)","in":"From: In(2)","curve":"b","f":20.42,"mag":11.75},{"out":"To: Out(3)","in":"From: In(2)","curve":"b","f":21.38,"mag":2.951},{"out":"To: Out(3)","in":"From: In(2)","curve":"b","f":23.44,"mag":0.5623},{"out":"To: Out(3)","in":"From: In(2)","curve":"b","f":25.7,"mag":0.2455},{"out":"To: Out(3)","in":"From: In(2)","curve":"b","f":30.9,"mag":0.04169},{"out":"To: Out(3)","in":"From: In(2)","curve":"b","f":35.48,"mag":0.002951},{"out":"To: Out(3)","in":"From: In(2)","curve":"b","f":38.9,"mag":0.04169},{"out":"To: Out(3)","in":"From: In(2)","curve":"b","f":40.74,"mag":0.01738},
{"out":"To: Out(3)","in":"From: In(3)","curve":"a","f":1,"mag":83.18},{"out":"To: Out(3)","in":"From: In(3)","curve":"a","f":2.399,"mag":77.62},{"out":"To: Out(3)","in":"From: In(3)","curve":"a","f":4.571,"mag":64.57},{"out":"To: Out(3)","in":"From: In(3)","curve":"a","f":6.31,"mag":40.74},{"out":"To: Out(3)","in":"From: In(3)","curve":"a","f":7.586,"mag":19.95},{"out":"To: Out(3)","in":"From: In(3)","curve":"a","f":8.318,"mag":7.762},{"out":"To: Out(3)","in":"From: In(3)","curve":"a","f":8.913,"mag":186.2},{"out":"To: Out(3)","in":"From: In(3)","curve":"a","f":9.772,"mag":7.762},{"out":"To: Out(3)","in":"From: In(3)","curve":"a","f":11.22,"mag":48.98},{"out":"To: Out(3)","in":"From: In(3)","curve":"a","f":12.59,"mag":213.8},{"out":"To: Out(3)","in":"From: In(3)","curve":"a","f":15.14,"mag":3981},{"out":"To: Out(3)","in":"From: In(3)","curve":"a","f":16.98,"mag":977.2},{"out":"To: Out(3)","in":"From: In(3)","curve":"a","f":19.5,"mag":239.9},{"out":"To: Out(3)","in":"From: In(3)","curve":"a","f":20.42,"mag":691.8},{"out":"To: Out(3)","in":"From: In(3)","curve":"a","f":23.44,"mag":407.4},{"out":"To: Out(3)","in":"From: In(3)","curve":"a","f":33.88,"mag":281.8},
{"out":"To: Out(3)","in":"From: In(3)","curve":"b","f":1,"mag":11.75},{"out":"To: Out(3)","in":"From: In(3)","curve":"b","f":2.399,"mag":5.888},{"out":"To: Out(3)","in":"From: In(3)","curve":"b","f":4.571,"mag":2.399},{"out":"To: Out(3)","in":"From: In(3)","curve":"b","f":6.31,"mag":1.202},{"out":"To: Out(3)","in":"From: In(3)","curve":"b","f":7.586,"mag":0.4898},{"out":"To: Out(3)","in":"From: In(3)","curve":"b","f":8.318,"mag":0.1445},{"out":"To: Out(3)","in":"From: In(3)","curve":"b","f":8.913,"mag":3.236},{"out":"To: Out(3)","in":"From: In(3)","curve":"b","f":9.772,"mag":0.1349},{"out":"To: Out(3)","in":"From: In(3)","curve":"b","f":11.22,"mag":0.7079},{"out":"To: Out(3)","in":"From: In(3)","curve":"b","f":12.59,"mag":2.884},{"out":"To: Out(3)","in":"From: In(3)","curve":"b","f":15.14,"mag":40.74},{"out":"To: Out(3)","in":"From: In(3)","curve":"b","f":16.98,"mag":8.318},{"out":"To: Out(3)","in":"From: In(3)","curve":"b","f":19.5,"mag":1.698},{"out":"To: Out(3)","in":"From: In(3)","curve":"b","f":20.42,"mag":5.495},{"out":"To: Out(3)","in":"From: In(3)","curve":"b","f":23.44,"mag":2.884},{"out":"To: Out(3)","in":"From: In(3)","curve":"b","f":33.88,"mag":1.202}
]},
"facet": {
  "row": {"field": "out", "type": "nominal", "header": {"title": "Magnitude (abs)", "titleOrient": "left", "labelOrient": "left", "labelAngle": -90, "titleAngle": -90, "labelFontSize": 16, "titleFontSize": 16, "titleFontWeight": "normal", "labelPadding": -1, "titlePadding": -24}},
  "column": {"field": "in", "type": "nominal", "header": {"title": "Frequency \u00a0(Hz)", "titleOrient": "bottom", "labelOrient": "top", "labelFontSize": 16, "titleFontSize": 16, "titleFontWeight": "normal", "labelPadding": 8, "titlePadding": 6}}
},
"spacing": {"row": 2, "column": 3},
"spec": {
  "width": 187,
  "height": 147,
  "mark": {"type": "line", "color": "black", "strokeWidth": 1, "clip": true},
  "encoding": {
    "x": {"field": "f", "type": "quantitative", "scale": {"type": "log", "domain": [1, 40.93], "nice": false},
      "axis": {"title": null, "values": [1,2,3,4,5,6,7,8,9,10,20,30,40], "labelExpr": "datum.value == 1 ? '10\u2070' : (datum.value == 10 ? '10\u00b9' : '')", "tickSize": -4, "labelPadding": 12, "labelFontSize": 15, "labelOverlap": false, "labelFlush": false}},
    "y": {"field": "mag", "type": "quantitative", "scale": {"type": "log", "domain": [0.000891, 5248], "nice": false},
      "axis": {"title": null, "values": [0.01, 1, 100], "labelExpr": "datum.value > 10 ? '10\u00b2' : (datum.value > 0.1 ? '10\u2070' : '10\u207b\u00b2')", "tickSize": -5, "labelPadding": 16, "labelFontSize": 15, "labelOverlap": false, "labelFlush": false}},
    "detail": {"field": "curve", "type": "nominal"}
  }
},
"config": {
  "font": "Liberation Sans",
  "view": {"stroke": "black", "strokeWidth": 1},
  "axis": {"grid": false, "domain": false, "tickColor": "black", "labelColor": "black", "labelFont": "Liberation Sans"},
  "header": {"labelColor": "black", "titleColor": "black", "labelFont": "Liberation Sans", "titleFont": "Liberation Sans"}
}
}
